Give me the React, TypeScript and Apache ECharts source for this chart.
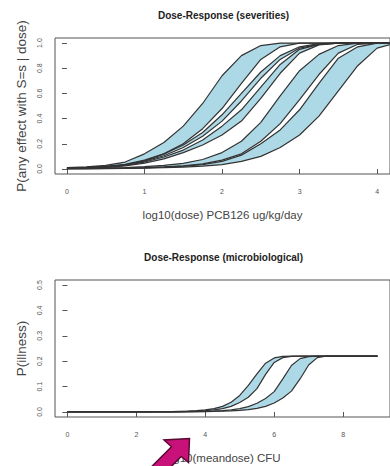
import React, { useEffect, useRef } from 'react';
import * as echarts from 'echarts';

// ---------- Top panel: Dose-Response (severities) ----------
const sevDose = [0, 0.25, 0.5, 0.75, 1, 1.25, 1.5, 1.75, 2, 2.25, 2.5, 2.75, 3, 3.25, 3.5, 3.75, 4, 4.25];

const sevBand1Upper = [0.010, 0.016, 0.028, 0.055, 0.12, 0.21, 0.34, 0.52, 0.74, 0.90, 0.98, 1.0, 1.0, 1.0, 1.0, 1.0, 1.0, 1.0];
const sevBand1Lower = [0.006, 0.010, 0.017, 0.032, 0.065, 0.12, 0.20, 0.32, 0.48, 0.68, 0.87, 0.97, 1.0, 1.0, 1.0, 1.0, 1.0, 1.0];
const sevBand2Upper = [0.008, 0.012, 0.020, 0.036, 0.07, 0.12, 0.19, 0.29, 0.43, 0.60, 0.77, 0.90, 0.97, 0.995, 1.0, 1.0, 1.0, 1.0];
const sevBand2Lower = [0.007, 0.011, 0.018, 0.032, 0.062, 0.105, 0.17, 0.26, 0.38, 0.54, 0.72, 0.87, 0.96, 0.99, 1.0, 1.0, 1.0, 1.0];
const sevBand3Upper = [0.006, 0.010, 0.016, 0.028, 0.055, 0.095, 0.15, 0.23, 0.34, 0.47, 0.65, 0.83, 0.95, 0.99, 1.0, 1.0, 1.0, 1.0];
const sevBand3Lower = [0.005, 0.008, 0.013, 0.024, 0.047, 0.08, 0.13, 0.19, 0.27, 0.38, 0.56, 0.76, 0.92, 0.985, 1.0, 1.0, 1.0, 1.0];
const sevBand4Upper = [0.003, 0.005, 0.007, 0.011, 0.018, 0.028, 0.045, 0.075, 0.13, 0.22, 0.37, 0.58, 0.78, 0.91, 0.98, 1.0, 1.0, 1.0];
const sevBand4Lower = [0.002, 0.003, 0.005, 0.007, 0.011, 0.016, 0.025, 0.04, 0.07, 0.12, 0.22, 0.36, 0.55, 0.75, 0.92, 0.99, 1.0, 1.0];
const sevBand5Upper = [0.002, 0.003, 0.004, 0.006, 0.009, 0.014, 0.022, 0.035, 0.06, 0.11, 0.20, 0.31, 0.47, 0.68, 0.88, 0.97, 1.0, 1.0];
const sevBand5Lower = [0.002, 0.002, 0.003, 0.005, 0.007, 0.010, 0.015, 0.022, 0.035, 0.06, 0.10, 0.17, 0.27, 0.42, 0.62, 0.82, 0.96, 1.0];

const sevXTicks = [0, 1, 2, 3, 4];
const sevYTicks = [0, 0.2, 0.4, 0.6, 0.8, 1.0];

// ---------- Bottom panel: Dose-Response (microbiological) ----------
const microDose = [
  0, 0.25, 0.5, 0.75, 1, 1.25, 1.5, 1.75, 2, 2.25, 2.5, 2.75, 3, 3.25, 3.5, 3.75, 4, 4.25, 4.5,
  4.75, 5, 5.25, 5.5, 5.75, 6, 6.25, 6.5, 6.75, 7, 7.25, 7.5, 7.75, 8, 8.25, 8.5, 8.75, 9,
];
const microBand1Upper = [
  0, 0, 0, 0, 0, 0, 0, 0, 0, 0.0002, 0.0004, 0.0007, 0.001, 0.002, 0.003, 0.005, 0.008, 0.013, 0.022,
  0.038, 0.065, 0.105, 0.150, 0.192, 0.213, 0.219, 0.22, 0.22, 0.22, 0.22, 0.22, 0.22, 0.22, 0.22, 0.22, 0.22, 0.22,
];
const microBand1Lower = [
  0, 0, 0, 0, 0, 0, 0, 0, 0, 0.0001, 0.0002, 0.0003, 0.0005, 0.001, 0.002, 0.003, 0.005, 0.008, 0.013,
  0.022, 0.037, 0.058, 0.092, 0.148, 0.195, 0.214, 0.219, 0.22, 0.22, 0.22, 0.22, 0.22, 0.22, 0.22, 0.22, 0.22, 0.22,
];
const microBand2Upper = [
  0, 0, 0, 0, 0, 0, 0, 0, 0, 0, 0.0001, 0.0002, 0.0003, 0.0005, 0.001, 0.0015, 0.002, 0.003, 0.005,
  0.008, 0.013, 0.021, 0.034, 0.053, 0.08, 0.13, 0.183, 0.21, 0.218, 0.22, 0.22, 0.22, 0.22, 0.22, 0.22, 0.22, 0.22,
];
const microBand2Lower = [
  0, 0, 0, 0, 0, 0, 0, 0, 0, 0, 0, 0, 0.0001, 0.0002, 0.0004, 0.0007, 0.001, 0.002, 0.003,
  0.004, 0.006, 0.009, 0.014, 0.022, 0.035, 0.055, 0.082, 0.13, 0.185, 0.214, 0.22, 0.22, 0.22, 0.22, 0.22, 0.22, 0.22,
];

const microXTicks = [0, 2, 4, 6, 8];
const microYTicks = [0, 0.1, 0.2, 0.3, 0.4, 0.5];

const sevBands = [
  [sevBand1Upper, sevBand1Lower],
  [sevBand2Upper, sevBand2Lower],
  [sevBand3Upper, sevBand3Lower],
  [sevBand4Upper, sevBand4Lower],
  [sevBand5Upper, sevBand5Lower],
];
const microBands = [
  [microBand1Upper, microBand1Lower],
  [microBand2Upper, microBand2Lower],
];

const FONT = "'Liberation Sans', Arial, sans-serif";
const BAND_FILL = '#ADD8E6';
const EDGE = '#333333';

function bandSeries(xs: number[], upper: number[], lower: number[], idx: number) {
  return {
    type: 'custom',
    xAxisIndex: idx,
    yAxisIndex: idx,
    data: [[xs[0], lower[0]]],
    clip: true,
    silent: true,
    z: 1,
    renderItem: (_params: any, api: any) => {
      const pts: number[][] = [];
      for (let i = 0; i < xs.length; i++) pts.push(api.coord([xs[i], upper[i]]));
      for (let i = xs.length - 1; i >= 0; i--) pts.push(api.coord([xs[i], lower[i]]));
      return { type: 'polygon', shape: { points: pts }, style: { fill: BAND_FILL, stroke: 'none' } };
    },
  };
}

function lineSeries(xs: number[], ys: number[], idx: number) {
  return {
    type: 'line',
    xAxisIndex: idx,
    yAxisIndex: idx,
    data: xs.map((x, i) => [x, ys[i]]),
    showSymbol: false,
    symbol: 'none',
    silent: true,
    clip: true,
    z: 3,
    lineStyle: { color: EDGE, width: 1.2 },
  };
}

function xAxisOpt(idx: number, min: number, max: number, ticks: number[], name: string) {
  return {
    gridIndex: idx,
    type: 'value',
    min,
    max,
    axisLine: { show: false },
    splitLine: { show: false },
    axisTick: { show: true, length: 5, inside: false, customValues: ticks, lineStyle: { color: '#555', width: 1 } },
    axisLabel: { customValues: ticks, fontSize: 7, color: '#555', margin: 14, fontFamily: FONT },
    name,
    nameLocation: 'middle',
    nameGap: 35,
    nameTextStyle: { fontSize: 11.5, color: '#444', fontFamily: FONT },
  };
}

function yAxisOpt(idx: number, min: number, max: number, ticks: number[], name: string, fmt: (v: number) => string) {
  return {
    gridIndex: idx,
    type: 'value',
    min,
    max,
    axisLine: { show: false },
    splitLine: { show: false },
    axisTick: { show: true, length: 5, inside: false, customValues: ticks, lineStyle: { color: '#555', width: 1 } },
    axisLabel: { customValues: ticks, fontSize: 7, color: '#555', margin: 12, rotate: 90, fontFamily: FONT, formatter: fmt },
    name,
    nameLocation: 'middle',
    nameGap: 25,
    nameTextStyle: { fontSize: 13.5, color: '#444', fontFamily: FONT },
  };
}

export default function App() {
  const ref = useRef<HTMLDivElement>(null);
  useEffect(() => {
    if (!ref.current) return;
    const chart = echarts.init(ref.current, null, { renderer: 'svg' });
    const series: any[] = [];
    sevBands.forEach(([u, l]) => series.push(bandSeries(sevDose, u, l, 0)));
    sevBands.forEach(([u, l]) => {
      series.push(lineSeries(sevDose, u, 0));
      series.push(lineSeries(sevDose, l, 0));
    });
    microBands.forEach(([u, l]) => series.push(bandSeries(microDose, u, l, 1)));
    microBands.forEach(([u, l]) => {
      series.push(lineSeries(microDose, u, 1));
      series.push(lineSeries(microDose, l, 1));
    });

    const tip = [189.5, 438.5];
    const barbA = [164, 440];
    const barbB = [188.5, 462.5];
    const p1 = [171.5, 446.8];
    const p2 = [181.2, 456.5];
    const arrowPts = [tip, barbB, p2, [p2[0] - 32, p2[1] + 32], [p1[0] - 32, p1[1] + 32], p1, barbA];

    chart.setOption({
      animation: false,
      backgroundColor: '#ffffff',
      title: [
        {
          text: 'Dose-Response (severities)',
          left: 223.5,
          top: 10,
          padding: 0,
          textAlign: 'center',
          textStyle: { fontSize: 10, fontWeight: 'bold', color: '#222', fontFamily: "'Liberation Sans Narrow', 'Arial Narrow', " + FONT },
        },
        {
          text: 'Dose-Response (microbiological)',
          left: 223.5,
          top: 252,
          padding: 0,
          textAlign: 'center',
          textStyle: { fontSize: 10, fontWeight: 'bold', color: '#222', fontFamily: "'Liberation Sans Narrow', 'Arial Narrow', " + FONT },
        },
      ],
      grid: [
        { left: 55, top: 38, width: 337, height: 136, show: true, borderColor: '#555', borderWidth: 1, backgroundColor: 'transparent' },
        { left: 55, top: 280, width: 337, height: 137, show: true, borderColor: '#555', borderWidth: 1, backgroundColor: 'transparent' },
      ],
      xAxis: [
        xAxisOpt(0, -0.154, 4.166, sevXTicks, 'log10(dose) PCB126 ug/kg/day'),
        xAxisOpt(1, -0.36, 9.36, microXTicks, 'log10(meandose) CFU'),
      ],
      yAxis: [
        yAxisOpt(0, -0.04, 1.04, sevYTicks, 'P(any effect with S=s | dose)', (v: number) => v.toFixed(1)),
        yAxisOpt(1, -0.02, 0.52, microYTicks, 'P(illness)', (v: number) => v.toFixed(1)),
      ],
      series,
      graphic: [
        {
          type: 'polygon',
          z: 100,
          shape: { points: arrowPts },
          style: { fill: '#C8127A', stroke: '#5a0a32', lineWidth: 1.5 },
        },
      ],
    });
    return () => chart.dispose();
  }, []);
  return <div ref={ref} style={{ position: 'absolute', left: 0, top: 0, width: 390, height: 466 }} />;
}
